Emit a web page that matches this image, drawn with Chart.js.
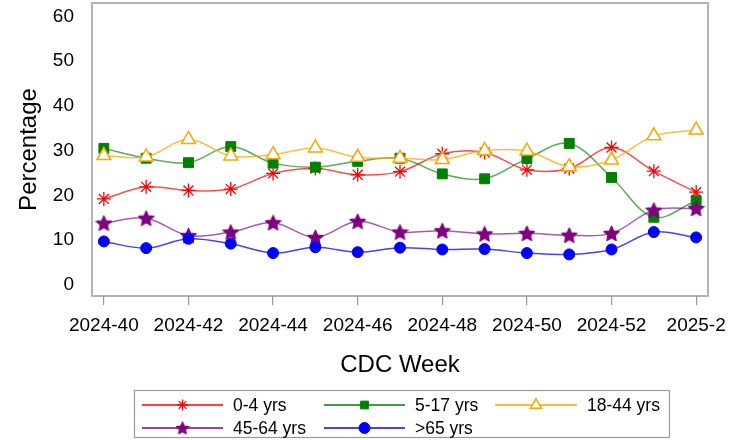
<!DOCTYPE html>
<html><head><meta charset="utf-8">
<script src="https://cdn.jsdelivr.net/npm/chart.js@4"></script>
<style>html,body{margin:0;padding:0;background:#fff}#wrap{width:740px;height:440px;position:relative}</style>
</head><body><div id="wrap"><canvas id="c" width="740" height="440"></canvas></div>
<script>
const weeks = ['2024-40','2024-41','2024-42','2024-43','2024-44','2024-45','2024-46','2024-47','2024-48','2024-49','2024-50','2024-51','2024-52','2025-1','2025-2'];
const age0_4   = [19.2, 21.9, 21.1, 21.4, 24.9, 26.0, 24.6, 25.3, 29.3, 29.6, 25.7, 26.0, 30.7, 25.4, 20.7];
const age5_17  = [30.5, 28.3, 27.3, 30.9, 27.2, 26.3, 27.6, 28.3, 24.8, 23.7, 28.2, 31.6, 24.0, 15.1, 18.8];
const age18_44 = [28.9, 28.6, 32.5, 28.8, 29.1, 30.6, 28.5, 28.3, 28.0, 30.0, 29.9, 26.4, 27.9, 33.3, 34.6];
const age45_64 = [13.8, 14.9, 11.0, 11.8, 13.9, 10.6, 14.2, 11.8, 12.1, 11.4, 11.5, 11.1, 11.5, 16.7, 17.1];
const age65    = [9.7, 8.2, 10.3, 9.2, 7.1, 8.4, 7.3, 8.3, 7.9, 8.0, 7.1, 6.8, 7.9, 11.8, 10.6];
const seriesNames = ['0-4 yrs','5-17 yrs','18-44 yrs','45-64 yrs','>65 yrs'];
const yTicks = [0,10,20,30,40,50,60];

const FONT = '"Liberation Sans", Arial, sans-serif';

function makeStar(size, color){
  const c = document.createElement('canvas');
  c.width = size; c.height = size;
  const g = c.getContext('2d');
  const cx = size/2, cy = size/2 + size*0.04, R = size/2 - 0.5, r = R*0.47;
  g.beginPath();
  for (let i=0;i<10;i++){
    const a = -Math.PI/2 + i*Math.PI/5;
    const rr = i%2===0 ? R : r;
    g.lineTo(cx + rr*Math.cos(a), cy + rr*Math.sin(a));
  }
  g.closePath();
  g.fillStyle = color; g.fill();
  g.lineJoin='round'; g.lineWidth=1.2; g.strokeStyle=color; g.stroke();
  return c;
}
const starBig = makeStar(17, '#800080');
const starSmall = makeStar(14, '#800080');

const pts = arr => weeks.map((w,i)=>({x:i, y:arr[i]}));

const styles = [
  {line:'rgba(255,0,0,0.7)', pc:'#ff0000', pbg:'#ff0000', ps:'star', r:7, bw:1.3, lr:5.5, lps:'star'},
  {line:'rgba(0,128,0,0.65)', pc:'#008000', pbg:'#008000', ps:'rect', r:7, bw:1, lr:5.5, lps:'rect'},
  {line:'rgba(255,165,0,0.75)', pc:'#ffa500', pbg:'#ffffff', ps:'triangle', r:8, bw:1.5, lr:6.5, lps:'triangle'},
  {line:'rgba(128,0,128,0.65)', pc:'#800080', pbg:'#800080', ps:starBig, r:8.5, bw:1, lr:7, lps:starSmall},
  {line:'rgba(0,0,255,0.75)', pc:'#0000ff', pbg:'#0000ff', ps:'circle', r:5.5, bw:1, lr:5.5, lps:'circle'}
];
const values = [age0_4, age5_17, age18_44, age45_64, age65];

const datasets = values.map((v,i)=>({
  label: seriesNames[i],
  data: pts(v),
  borderColor: styles[i].line,
  borderWidth: 1.5,
  tension: 0.35,
  pointStyle: styles[i].ps,
  pointRadius: styles[i].r,
  pointHoverRadius: styles[i].r,
  pointBorderColor: styles[i].pc,
  pointBackgroundColor: styles[i].pbg,
  pointBorderWidth: styles[i].bw,
  order: 5 - i
}));

const frameAndLegend = {
  id: 'frameAndLegend',
  afterDraw(chart){
    const ctx = chart.ctx;
    const a = chart.chartArea;
    ctx.save();
    ctx.strokeStyle = '#999999';
    ctx.lineWidth = 1.5;
    ctx.strokeRect(a.left, a.top, a.right - a.left, a.bottom - a.top);
    // legend
    ctx.lineWidth = 1.2;
    ctx.strokeStyle = '#999999';
    ctx.strokeRect(134.5, 390.5, 535, 47);
    const cols = [{l:142, r:223, t:233}, {l:324, r:405, t:415}, {l:495, r:577, t:587}];
    const rows = [405, 428];
    seriesNames.forEach((name, i)=>{
      const col = cols[i % 3], y = rows[Math.floor(i/3)];
      const s = styles[i];
      ctx.strokeStyle = s.pc; ctx.lineWidth = 1.3;
      ctx.beginPath(); ctx.moveTo(col.l, y); ctx.lineTo(col.r, y); ctx.stroke();
      ctx.fillStyle = s.pbg; ctx.strokeStyle = s.pc; ctx.lineWidth = s.bw;
      Chart.helpers.drawPoint(ctx, {pointStyle: s.lps, radius: s.lr, rotation: 0, borderWidth: s.bw}, (col.l+col.r)/2, y);
      ctx.fillStyle = '#000';
      ctx.font = '17.5px ' + FONT;
      ctx.textBaseline = 'middle';
      ctx.textAlign = 'left';
      ctx.fillText(name, col.t, y + 1);
    });
    ctx.restore();
  }
};

new Chart(document.getElementById('c'), {
  type: 'line',
  data: { datasets },
  options: {
    responsive: false,
    animation: false,
    devicePixelRatio: 1,
    layout: { autoPadding: false, padding: { left: 0, top: 3, right: 32, bottom: 55 } },
    plugins: { legend: { display: false }, tooltip: { enabled: false } },
    scales: {
      x: {
        type: 'linear', min: -0.28, max: 14.28,
        afterFit(s){ s.height = 89; s.paddingLeft = 0; s.paddingRight = 0; },
        grid: { display: true, drawOnChartArea: false, drawTicks: true, tickLength: 9, color: '#999999', lineWidth: 1.2 },
        border: { display: false },
        ticks: {
          stepSize: 2, includeBounds: false, autoSkip: false, maxRotation: 0, minRotation: 0,
          padding: 9, color: '#000', font: { family: FONT, size: 19 },
          callback: v => weeks[v]
        },
        title: { display: true, text: 'CDC Week', color: '#000', font: { family: FONT, size: 24 }, padding: { top: 0, bottom: 5 } }
      },
      y: {
        min: -2.5, max: 63,
        afterFit(s){ s.width = 92; s.paddingTop = 0; s.paddingBottom = 0; },
        afterBuildTicks(s){ s.ticks = yTicks.map(v=>({value:v})); },
        grid: { display: false },
        border: { display: false },
        ticks: { padding: 10, color: '#000', font: { family: FONT, size: 19 } },
        title: { display: true, text: 'Percentage', color: '#000', font: { family: FONT, size: 24 }, padding: { top: 15, bottom: 0 } }
      }
    }
  },
  plugins: [frameAndLegend]
});
</script>
</body></html>
